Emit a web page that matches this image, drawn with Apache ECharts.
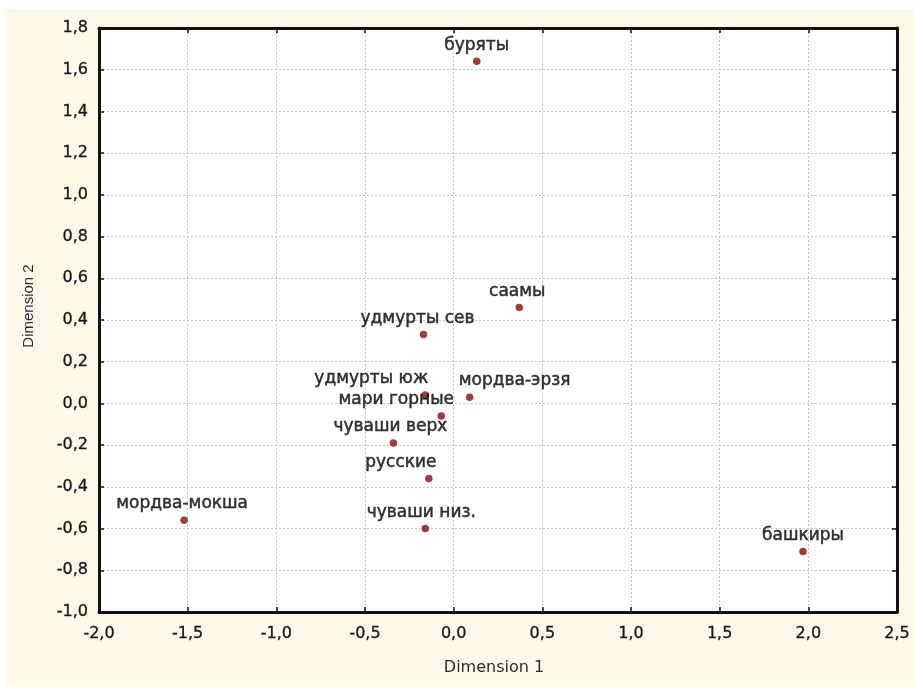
<!DOCTYPE html>
<html>
<head>
<meta charset="utf-8">
<script src="https://cdn.jsdelivr.net/npm/echarts@6/dist/echarts.min.js"></script>
<style>
  html, body { margin: 0; padding: 0; background: #ffffff; }
  #chart { width: 915px; height: 687px; }
</style>
</head>
<body>
<div id="chart"></div>
<script>
// Groups and their coordinates in the two-dimensional scaling solution
const groups = ['буряты', 'саамы', 'удмурты сев', 'удмурты юж', 'мордва-эрзя',
                'мари горные', 'чуваши верх', 'русские', 'чуваши низ.',
                'мордва-мокша', 'башкиры'];
const dim1 = [0.13, 0.37, -0.17, -0.16, 0.09, -0.07, -0.34, -0.14, -0.16, -1.52, 1.97];
const dim2 = [1.64, 0.46, 0.33, 0.04, 0.03, -0.06, -0.19, -0.36, -0.60, -0.56, -0.71];

// Horizontal nudges (px) for labels that would otherwise collide
const labelShift = {
  'саамы': -2,
  'удмурты сев': -6,
  'удмурты юж': -54,
  'мордва-эрзя': 45,
  'мари горные': -45,
  'чуваши верх': -3,
  'русские': -28,
  'чуваши низ.': -4,
  'мордва-мокша': -2
};

const WIDE = '"DejaVu Sans", Verdana, sans-serif';
const fmt = v => v.toFixed(1).replace('.', ',');
const tickFont = { fontFamily: WIDE, fontSize: 16, color: '#161616', textBorderColor: '#161616', textBorderWidth: 0.3 };
const frame = { show: true, onZero: false, lineStyle: { color: '#111', width: 3 } };
const inTicks = { show: true, inside: true, length: 5, lineStyle: { color: '#111', width: 1.5 } };
const gridLines = { show: true, lineStyle: { color: '#c4c4c4', type: [2, 2], width: 1 } };

const points = groups.map((g, i) => ({ name: g, value: [dim1[i], dim2[i]] }));

const chart = echarts.init(document.getElementById('chart'), null, { renderer: 'canvas' });
chart.setOption({
  backgroundColor: '#ffffff',
  animation: false,
  graphic: [{
    type: 'rect', z: -10, silent: true,
    shape: { x: 7, y: 9, width: 908, height: 678 },
    style: { fill: '#fdf8e8' }
  }, {
    type: 'text', silent: true, x: 494, y: 668,
    style: { text: 'Dimension 1', font: '16px ' + WIDE, fill: '#2a2a2a', align: 'center', verticalAlign: 'middle' }
  }, {
    type: 'text', silent: true, x: 29, y: 306, rotation: Math.PI / 2,
    style: { text: 'Dimension 2', font: '15px "Liberation Sans", Arial, sans-serif', fill: '#2a2a2a', align: 'center', verticalAlign: 'middle' }
  }],
  grid: { left: 99, top: 28, width: 798, height: 584, show: true, backgroundColor: '#ffffff', borderWidth: 0 },
  xAxis: [{
    type: 'value', position: 'bottom', min: -2, max: 2.5, interval: 0.5,
    axisLine: frame, axisTick: inTicks, splitLine: gridLines,
    axisLabel: Object.assign({ formatter: fmt, margin: 14 }, tickFont)
  }, {
    type: 'value', position: 'top', min: -2, max: 2.5, interval: 0.5,
    axisLine: frame, axisTick: inTicks, splitLine: { show: false }, axisLabel: { show: false }
  }],
  yAxis: [{
    type: 'value', position: 'left', min: -1, max: 1.8, interval: 0.2,
    axisLine: frame, axisTick: inTicks, splitLine: gridLines,
    axisLabel: Object.assign({ formatter: fmt, margin: 11 }, tickFont)
  }, {
    type: 'value', position: 'right', min: -1, max: 1.8, interval: 0.2,
    axisLine: frame, axisTick: inTicks, splitLine: { show: false }, axisLabel: { show: false }
  }],
  series: [{
    type: 'scatter',
    xAxisIndex: 0, yAxisIndex: 0,
    symbol: 'circle', symbolSize: 7.5,
    itemStyle: { color: '#860c0c' },
    label: {
      show: true, position: 'top', distance: 4,
      formatter: p => p.name,
      fontFamily: WIDE, fontSize: 17, color: '#050505',
      textBorderColor: '#050505', textBorderWidth: 0.5
    },
    labelLayout: p => ({ dx: labelShift[groups[p.dataIndex]] || 0, hideOverlap: false }),
    data: points
  }]
});
</script>
</body>
</html>
